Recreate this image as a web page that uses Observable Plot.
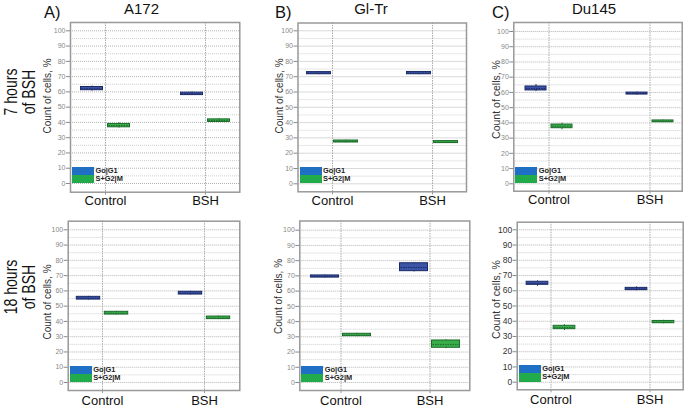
<!DOCTYPE html>
<html><head><meta charset="utf-8">
<script src="https://cdn.jsdelivr.net/npm/d3@7"></script>
<script src="https://cdn.jsdelivr.net/npm/@observablehq/plot@0.6"></script>
<style>
body{margin:0;background:#fff;}
#root{position:relative;width:685px;height:407px;overflow:hidden;font-family:"Liberation Sans",Arial,sans-serif;background:#fff;}
#root svg{position:absolute;overflow:visible;}
.lg{position:absolute;}
.sw{position:absolute;width:22px;height:8.2px;}
.lt{position:absolute;font:bold 7.4px "Liberation Sans",Arial,sans-serif;color:#222;white-space:nowrap;line-height:8.2px;}
</style></head><body><div id="root"></div>
<script>
// ---- data ----
const cellLines = ["A172", "Gl-Tr", "Du145"];
const panelLetters = ["A)", "B)", "C)"];
const timeLabels = [["7 hours", "of BSH"], ["18 hours", "of BSH"]];
const conditions = ["Control", "BSH"];
const phases = ["Go|G1", "S+G2|M"];
const yTicks = [0, 10, 20, 30, 40, 50, 60, 70, 80, 90, 100];
const yGrid = [0, 5, 10, 15, 20, 25, 30, 35, 40, 45, 50, 55, 60, 65, 70, 75, 80, 85, 90, 95, 100];
const yLabel = "Count of cells, %";
// order inside each cell line: Control Go|G1, Control S+G2|M, BSH Go|G1, BSH S+G2|M
const min7h  = [[60.5, 36.3, 57.6, 39.9], [71.3, 26.8, 71.3, 26.4], [60.6, 35.5, 58.3, 40.2]];
const q1_7h  = [[61.1, 36.8, 57.9, 40.3], [71.6, 27.0, 71.6, 26.6], [61.3, 36.5, 58.6, 40.4]];
const med7h  = [[62.0, 38.0, 58.7, 41.2], [72.3, 27.6, 72.3, 27.2], [62.5, 37.8, 59.3, 41.0]];
const q3_7h  = [[63.2, 39.0, 59.5, 42.0], [73.0, 28.3, 73.1, 27.9], [63.9, 38.9, 59.9, 41.6]];
const max7h  = [[63.8, 39.8, 59.9, 42.5], [73.3, 28.5, 73.4, 28.2], [65.2, 39.8, 60.2, 41.8]];
const min18h = [[54.0, 44.2, 57.3, 41.2], [68.7, 30.1, 72.6, 22.2], [63.0, 33.9, 60.0, 38.3]];
const q1_18h = [[54.3, 44.5, 57.6, 41.5], [68.9, 30.4, 73.1, 22.8], [63.9, 34.8, 60.4, 38.7]];
const med18h = [[55.2, 45.3, 58.5, 42.2], [69.5, 31.1, 75.5, 25.0], [64.8, 35.8, 61.2, 39.4]];
const q3_18h = [[56.1, 46.3, 59.4, 43.2], [70.3, 32.0, 78.3, 27.6], [65.9, 37.0, 61.9, 40.2]];
const max18h = [[56.4, 46.6, 59.7, 43.5], [70.6, 32.3, 78.6, 28.0], [66.5, 37.7, 62.5, 40.6]];

// ---- layout (pixels) ----
const stats = [
  {min: min7h, q1: q1_7h, med: med7h, q3: q3_7h, max: max7h},
  {min: min18h, q1: q1_18h, med: med18h, q3: q3_18h, max: max18h}
];
const colX = [0, 242, 472], colW = [242, 230, 213];
const rowY = [0, 210], rowH = [210, 197];
const layout = [
  [
    {L: 70, R: 239.3, T: 22, B: 191.7, y100: 30.3, y0: 183, c: 105, b: 205, w: 22, off: 13.5, lx: 47.5, ly: 96, lfs: 10, tfs: 7, tcol: "#888", xpad: 1},
    {L: 297.5, R: 466, T: 22.5, B: 191.3, y100: 30.3, y0: 183.3, c: 332, b: 432, w: 24, off: 13.5, lx: 279, ly: 96, lfs: 10, tfs: 7, tcol: "#888", xpad: 1},
    {L: 513.3, R: 681.7, T: 22, B: 190.7, y100: 31, y0: 183.3, c: 548.3, b: 649.3, w: 21, off: 13, lx: 496.5, ly: 99.5, lfs: 10.5, tfs: 7, tcol: "#888", xpad: 1}
  ],
  [
    {L: 67.7, R: 239.3, T: 220.7, B: 390, y100: 229.3, y0: 382, c: 101.7, b: 204.3, w: 24, off: 14, lx: 47.5, ly: 302, lfs: 10, tfs: 7, tcol: "#888", xpad: 2},
    {L: 299.3, R: 469.3, T: 220.5, B: 390, y100: 229.7, y0: 382, c: 340, b: 429, w: 28, off: 16, lx: 278.5, ly: 296.5, lfs: 10, tfs: 7, tcol: "#888", xpad: 2},
    {L: 516.7, R: 682.7, T: 221.7, B: 389.3, y100: 229.3, y0: 381.7, c: 550.7, b: 650, w: 22, off: 13.5, lx: 496.5, ly: 299.5, lfs: 10.5, tfs: 8.5, tcol: "#333", xpad: 2}
  ]
];
const boxFill = ["#3b54a6", "#3aad4b"];
const boxStroke = ["#1b2a66", "#1c6b2b"];
const legendFill = ["#1f6fc5", "#21ab4a"];

const root = document.getElementById("root");

for (let r = 0; r < 2; r++) {
  for (let ci = 0; ci < 3; ci++) {
    const P = layout[r][ci];
    const sx = colX[ci], sy = rowY[r], W = colW[ci], H = rowH[r];
    const s = stats[r];
    const rows = [];
    conditions.forEach((cond, k) => phases.forEach((ph, j) => {
      const idx = k * 2 + j;
      rows.push({condition: cond, phase: ph, lo: s.min[ci][idx], q1: s.q1[ci][idx], med: s.med[ci][idx], q3: s.q3[ci][idx], hi: s.max[ci][idx]});
    }));
    const d = P.b - P.c;
    const half = d / 2;
    const marks = [
      Plot.gridY(yGrid.filter(v => v % 10 !== 0), {stroke: "#cfcfcf", strokeOpacity: 1, strokeDasharray: "1,1"}),
      Plot.gridY(yTicks, {stroke: "#b3b3b3", strokeOpacity: 1, strokeDasharray: "1,1"}),
      Plot.gridX(conditions, {stroke: "#aaa", strokeOpacity: 1, strokeDasharray: "1.5,1"}),
      Plot.axisY(yTicks, {tickSize: 4, tickPadding: 1, fontSize: P.tfs, stroke: "#888", fill: P.tcol, label: null}),
      Plot.axisX({tickSize: 3, tickPadding: P.xpad, fontSize: 13, stroke: "#999", fill: "#111", label: null})
    ];
    phases.forEach((ph, j) => {
      const sign = j === 0 ? -1 : 1;
      const inL = half + sign * P.off - P.w / 2;
      const inR = half - sign * P.off - P.w / 2;
      const data = rows.filter(e => e.phase === ph);
      marks.push(
        Plot.ruleX(data, {x: "condition", y1: "lo", y2: "hi", dx: sign * P.off, stroke: boxStroke[j], strokeWidth: 1}),
        Plot.barY(data, {x: "condition", y1: "q1", y2: "q3", insetLeft: inL, insetRight: inR, fill: boxFill[j], stroke: boxStroke[j], strokeWidth: 1}),
        Plot.tickY(data, {x: "condition", y: "med", insetLeft: inL + 1, insetRight: inR + 1, stroke: boxStroke[j], strokeWidth: 1, strokeDasharray: "1.5,1"})
      );
    });
    marks.push(Plot.frame({stroke: "#999", strokeWidth: 1.5}));
    const svg = Plot.plot({
      width: W, height: H,
      marginLeft: P.L - sx, marginRight: sx + W - P.R,
      marginTop: P.T - sy, marginBottom: sy + H - P.B,
      x: {type: "band", domain: conditions, range: [P.c - half - sx, P.b + half - sx], padding: 0},
      y: {type: "linear", domain: [0, 100], range: [P.y0 - sy, P.y100 - sy]},
      style: {fontFamily: "'Liberation Sans', Arial, sans-serif", background: "transparent", overflow: "visible"},
      marks
    });
    svg.style.left = sx + "px";
    svg.style.top = sy + "px";
    root.appendChild(svg);

    // legend box (inside frame, bottom-left)
    const lg = document.createElement("div");
    lg.className = "lg";
    lg.style.left = (P.L + 2) + "px";
    lg.style.top = (P.y0 - 16.4) + "px";
    phases.forEach((ph, j) => {
      const sw = document.createElement("div");
      sw.className = "sw";
      sw.style.top = (j * 8.2) + "px";
      sw.style.left = "0px";
      sw.style.background = legendFill[j];
      lg.appendChild(sw);
      const t = document.createElement("div");
      t.className = "lt";
      t.style.top = (j * 8.2) + "px";
      t.style.left = "23.5px";
      t.textContent = ph;
      lg.appendChild(t);
    });
    root.appendChild(lg);
  }
}

// titles, row labels and y-axis labels
const over = d3.create("svg").attr("width", 685).attr("height", 407)
  .style("left", "0px").style("top", "0px")
  .attr("font-family", "'Liberation Sans', Arial, sans-serif");
const letterX = [44, 275, 492];
const nameX = [141.5, 371, 594];
cellLines.forEach((name, i) => {
  over.append("text").attr("x", letterX[i]).attr("y", 18).attr("font-size", 16.5).attr("fill", "#111").text(panelLetters[i]);
  over.append("text").attr("x", nameX[i]).attr("y", 14).attr("font-size", 15).attr("text-anchor", "middle").attr("fill", "#111").text(name);
});
const rowCenter = [92, 287];
timeLabels.forEach((lines, r) => {
  lines.forEach((ln, k) => {
    over.append("text")
      .attr("transform", `translate(${17 + k * 18},${rowCenter[r]}) rotate(-90) scale(0.76,1)`)
      .attr("text-anchor", "middle").attr("font-size", 18.5).attr("fill", "#111").text(ln);
  });
});
layout.forEach(row => row.forEach(P => {
  over.append("text")
    .attr("transform", `translate(${P.lx},${P.ly}) rotate(-90)`)
    .attr("text-anchor", "middle").attr("dy", "0.35em")
    .attr("font-size", P.lfs).attr("fill", "#333").text(yLabel);
}));
root.insertBefore(over.node(), root.firstChild);
</script></body></html>
